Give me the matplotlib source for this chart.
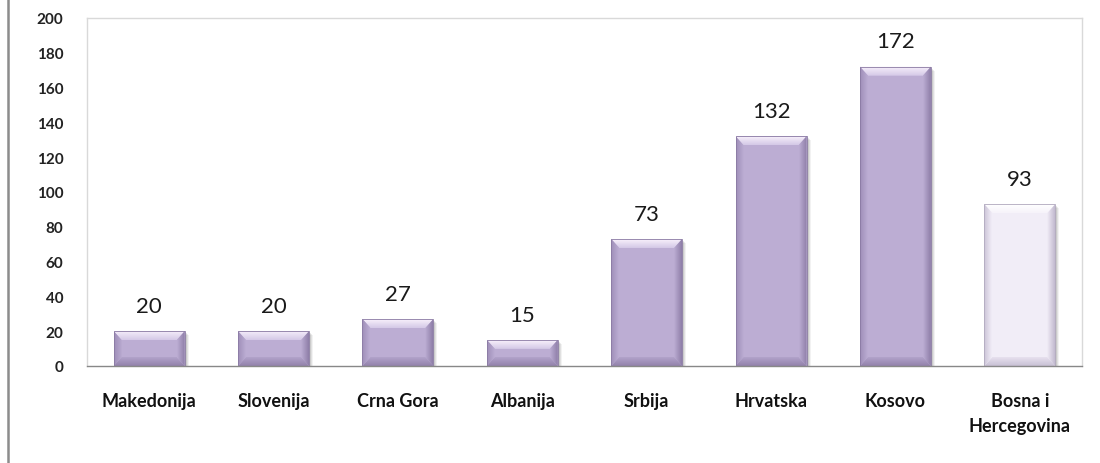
import matplotlib
matplotlib.use("Agg")
import numpy as np
import matplotlib.pyplot as plt
from matplotlib.patches import Polygon
from matplotlib.lines import Line2D
from matplotlib.colors import LinearSegmentedColormap

plt.rcParams['font.family'] = ['Lato', 'DejaVu Sans']

# data
countries = ['Makedonija', 'Slovenija', 'Crna Gora', 'Albanija', 'Srbija',
             'Hrvatska', 'Kosovo', 'Bosna i\nHercegovina']
values = [20, 20, 27, 15, 73, 132, 172, 93]
highlight = [False, False, False, False, False, False, False, True]
y_ticks = [0, 20, 40, 60, 80, 100, 120, 140, 160, 180, 200]

# colour sets: fill, top (outer, inner), bottom (inner, outer), left (outer), right (outer), edge
purple = dict(fill='#bcadd3', top=('#f8f1fc', '#d4c8e6'), bottom=('#b2a3ca', '#9281ab'),
              left='#9e8eb8', right='#8e7ea8', edge='#8a7aa3')
pale = dict(fill='#f1edf7', top=('#ffffff', '#f6f3fa'), bottom=('#e7e1ef', '#c8c0d4'),
            left='#cbc3d7', right='#c2b9cf', edge='#b0a8bd')

fig = plt.figure(figsize=(11, 4.64), dpi=100)
ax = fig.add_axes([87 / 1100, 1 - 367 / 464, 995 / 1100, 348 / 464])

x = list(range(len(countries)))
bars = ax.bar(x, values, width=0.57, color=[pale['fill'] if h else purple['fill'] for h in highlight],
              edgecolor='none', zorder=3)
xlim = (-0.5, len(countries) - 0.5)
ax.set_xlim(*xlim)
ax.set_ylim(0, 200)

# bevel sizes in pixels -> data units
fig.canvas.draw()
bbox = ax.get_window_extent()
x_per_px = len(countries) / bbox.width
y_per_px = 200 / bbox.height


def shaded(poly_pts, c_from, c_to, extent, vertical):
    # polygon filled with a linear gradient (clip an image to the polygon)
    poly = Polygon(poly_pts, closed=True, facecolor='none', edgecolor='none')
    ax.add_patch(poly)
    cmap = LinearSegmentedColormap.from_list('g', [c_from, c_to])
    grad = np.linspace(0, 1, 64)
    arr = grad[:, None] if vertical else grad[None, :]
    im = ax.imshow(arr, cmap=cmap, extent=extent, origin='upper', aspect='auto',
                   interpolation='bilinear', zorder=4)
    im.set_clip_path(poly)


for bar, h, v in zip(bars, highlight, values):
    c = pale if h else purple
    x0 = bar.get_x()
    x1 = x0 + bar.get_width()
    y0 = 0
    y1 = bar.get_height()
    bx = 8 * x_per_px
    by = min(9 * y_per_px, y1 / 2.6)
    # soft shadow
    for k, a in [(4, 0.05), (3, 0.07), (2, 0.09)]:
        ax.add_patch(plt.Rectangle((x0 + k * x_per_px, y0), x1 - x0, y1 - k * y_per_px,
                                   facecolor='#000000', alpha=a, edgecolor='none', zorder=2))
    # top bevel: light at the edge to the fill colour
    shaded([(x0, y1), (x1, y1), (x1 - bx, y1 - by), (x0 + bx, y1 - by)],
           c['top'][0], c['top'][1], (x0, x1, y1 - by, y1), True)
    # bottom bevel
    shaded([(x0, y0), (x1, y0), (x1 - bx, y0 + by), (x0 + bx, y0 + by)],
           c['bottom'][0], c['bottom'][1], (x0, x1, y0, y0 + by), True)
    # left side
    shaded([(x0, y0), (x0, y1), (x0 + bx, y1 - by), (x0 + bx, y0 + by)],
           c['left'], c['fill'], (x0, x0 + bx, y0, y1), False)
    # right side
    shaded([(x1, y0), (x1, y1), (x1 - bx, y1 - by), (x1 - bx, y0 + by)],
           c['fill'], c['right'], (x1 - bx, x1, y0, y1), False)
    ax.add_patch(plt.Rectangle((x0, y0), x1 - x0, y1, facecolor='none',
                               edgecolor=c['edge'], linewidth=0.6, zorder=5))
    ax.annotate(str(v), (bar.get_x() + bar.get_width() / 2, y1), xytext=(0, 11),
                textcoords='offset points', ha='center', va='bottom',
                fontsize=16, color='#1a1a1a', zorder=6)

ax.set_xlim(*xlim)
ax.set_ylim(0, 200)
ax.set_yticks(y_ticks)
ax.set_yticklabels([str(t) for t in y_ticks], fontsize=11, fontweight='bold', color='#222222')
ax.set_xticks(x)
ax.set_xticklabels(countries, fontsize=13, fontweight='bold', color='#111111', linespacing=1.55)
ax.tick_params(axis='both', length=0)
ax.tick_params(axis='y', pad=17)
ax.tick_params(axis='x', pad=19)

for side in ['top', 'left', 'right']:
    ax.spines[side].set_color('#d9d9d9')
    ax.spines[side].set_linewidth(1.0)
ax.spines['bottom'].set_color('#888888')
ax.spines['bottom'].set_linewidth(1.0)
ax.spines['bottom'].set_zorder(7)

# grey frame line on the far left
fig.add_artist(Line2D([7.5 / 1100, 7.5 / 1100], [0, 1], color='#8c8c8c', linewidth=1.8))

fig.savefig('out.png', dpi=100)
